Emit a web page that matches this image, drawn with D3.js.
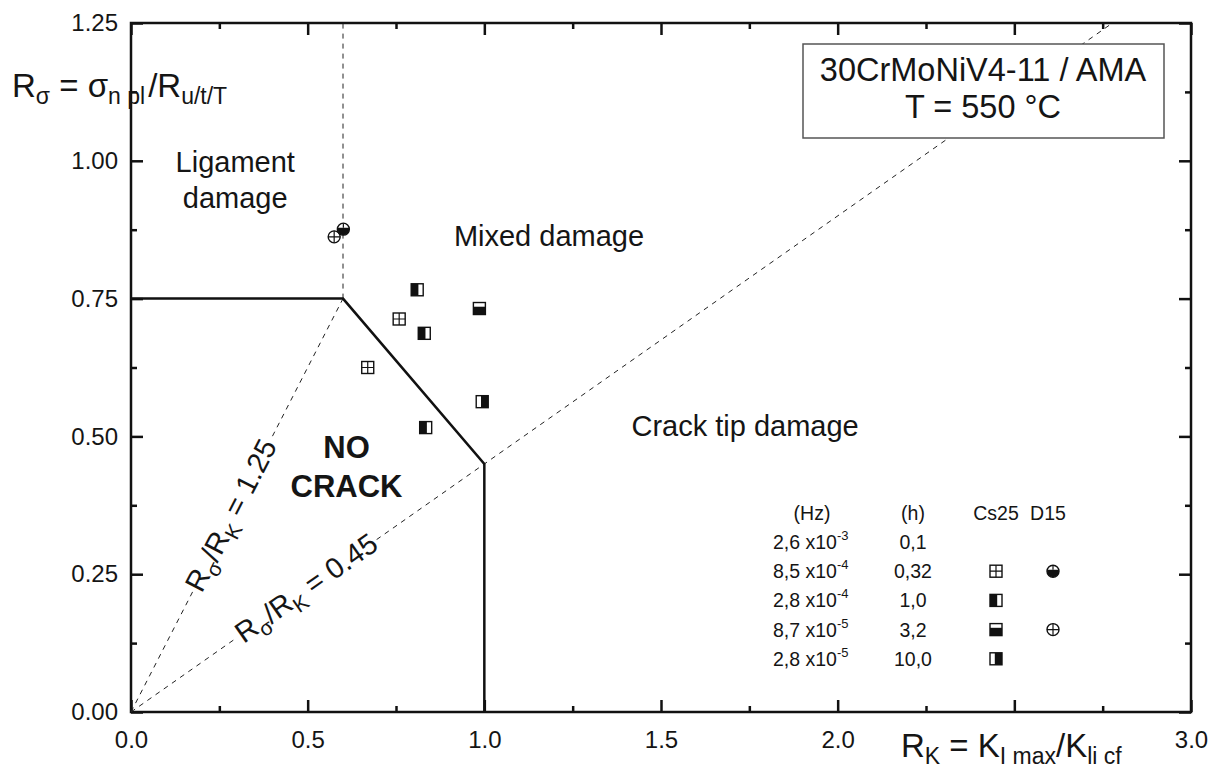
<!DOCTYPE html>
<html>
<head>
<meta charset="utf-8">
<script src="https://cdn.jsdelivr.net/npm/d3@7"></script>
<style>
  body { margin: 0; background: #fff; }
  svg text { font-family: "Liberation Sans", Arial, sans-serif; fill: #151515; }
</style>
</head>
<body>
<svg id="chart" width="1224" height="774"></svg>
<script>
// axis ticks
const xTicks = [0, 0.5, 1.0, 1.5, 2.0, 2.5, 3.0];
const xHidden = [2.5]; // label sits under the axis title in the original
const xMinor = [0.25, 0.75, 1.25, 1.75, 2.25, 2.75];
const yTicks = [0, 0.25, 0.5, 0.75, 1.0, 1.25];
const yMinor = [0.125, 0.375, 0.625, 0.875, 1.125];

// damage map boundary (solid) and the dashed guide lines
const boundary = [[0, 0.75], [0.6, 0.75], [1.0, 0.45], [1.0, 0]];
const ligamentLine = [[0.6, 0.75], [0.6, 1.25]];
const ratioLines = [
  { ratio: 1.25, xEnd: 0.6, label: "1.25", at: 0.285 },
  { ratio: 0.45, xEnd: 3.0, label: "0.45", at: 0.497 }
];

// Cs25 specimens (squares), fill type by frequency
const cs25 = [
  { fill: "grid", x: 0.670, y: 0.625 },
  { fill: "grid", x: 0.759, y: 0.713 },
  { fill: "left", x: 0.810, y: 0.766 },
  { fill: "left", x: 0.830, y: 0.687 },
  { fill: "left", x: 0.834, y: 0.516 },
  { fill: "bottom", x: 0.986, y: 0.732 },
  { fill: "right", x: 0.994, y: 0.563 }
];
// D15 specimens (circles)
const d15 = [
  { fill: "cross", x: 0.575, y: 0.862 },
  { fill: "half", x: 0.601, y: 0.876 }
];

const regionLabels = [
  { lines: ["Ligament", "damage"], x: 0.295, y: 0.98 },
  { lines: ["Mixed damage"], x: 1.183, y: 0.845 },
  { lines: ["Crack tip damage"], x: 1.738, y: 0.5 }
];

// legend table
const legendHz = ["2,6", "8,5", "2,8", "8,7", "2,8"];
const legendExp = ["-3", "-4", "-4", "-5", "-5"];
const legendH = ["0,1", "0,32", "1,0", "3,2", "10,0"];
const legendCs = [null, "grid", "left", "bottom", "right"];
const legendD = [null, "half", null, "cross", null];

const W = 1224, H = 774;
const margin = { left: 131, top: 23, right: 33, bottom: 62 };
const iw = W - margin.left - margin.right;
const ih = H - margin.top - margin.bottom;

const svg = d3.select("#chart");
const g = svg.append("g").attr("transform", `translate(${margin.left},${margin.top})`);

const x = d3.scaleLinear().domain([0, 3]).range([0, iw]);
const y = d3.scaleLinear().domain([0, 1.25]).range([ih, 0]);

// axes (ticks inward on all four sides)
function styleAxis(sel) {
  sel.select(".domain").remove();
  sel.selectAll("line").attr("stroke", "#111").attr("stroke-width", 2.5);
  sel.selectAll("text").attr("font-size", "24px").attr("fill", "#151515")
    .style("font-family", '"Liberation Sans", Arial, sans-serif');
}
const fx = d3.format(".1f");
g.append("g").attr("transform", `translate(0,${ih})`)
  .call(d3.axisBottom(x).tickValues(xTicks).tickFormat(d => xHidden.includes(d) ? "" : fx(d))
    .tickSize(-12).tickPadding(19))
  .call(styleAxis);
g.append("g").attr("transform", `translate(0,${ih})`)
  .call(d3.axisBottom(x).tickValues(xMinor).tickFormat("").tickSize(-6)).call(styleAxis);
g.append("g")
  .call(d3.axisTop(x).tickValues(xTicks).tickFormat("").tickSize(-12)).call(styleAxis);
g.append("g")
  .call(d3.axisTop(x).tickValues(xMinor).tickFormat("").tickSize(-6)).call(styleAxis);
g.append("g")
  .call(d3.axisLeft(y).tickValues(yTicks).tickFormat(d3.format(".2f")).tickSize(-12).tickPadding(13))
  .call(styleAxis);
g.append("g")
  .call(d3.axisLeft(y).tickValues(yMinor).tickFormat("").tickSize(-6)).call(styleAxis);
g.append("g").attr("transform", `translate(${iw},0)`)
  .call(d3.axisRight(y).tickValues(yTicks).tickFormat("").tickSize(-12)).call(styleAxis);
g.append("g").attr("transform", `translate(${iw},0)`)
  .call(d3.axisRight(y).tickValues(yMinor).tickFormat("").tickSize(-6)).call(styleAxis);

g.append("rect").attr("width", iw).attr("height", ih)
  .attr("fill", "none").attr("stroke", "#111").attr("stroke-width", 2.5);

// dashed guide lines
const line = d3.line().x(d => x(d[0])).y(d => y(d[1]));
g.append("defs").append("clipPath").attr("id", "plotClip")
  .append("rect").attr("width", iw).attr("height", ih);

g.append("path").datum(ligamentLine).attr("d", line)
  .attr("fill", "none").attr("stroke", "#222").attr("stroke-width", 1).attr("stroke-dasharray", "5,5");

ratioLines.forEach(r => {
  g.append("path").datum([[0, 0], [r.xEnd, r.xEnd * r.ratio]]).attr("d", line)
    .attr("clip-path", "url(#plotClip)")
    .attr("fill", "none").attr("stroke", "#222").attr("stroke-width", 1).attr("stroke-dasharray", "5,5");
});

// solid boundary
g.append("path").datum(boundary).attr("d", line)
  .attr("fill", "none").attr("stroke", "#111").attr("stroke-width", 2.5);

// rotated ratio labels
ratioLines.forEach(r => {
  const px = x(r.at), py = y(r.at * r.ratio);
  const ang = Math.atan2(y(0) - y(r.ratio), x(1) - x(0)) * 180 / Math.PI;
  const lg = g.append("g").attr("transform", `translate(${px},${py}) rotate(${-ang})`);
  const bg = lg.append("rect").attr("fill", "#fff");
  const t = lg.append("text").attr("text-anchor", "middle").attr("y", 9).attr("font-size", "29px");
  t.append("tspan").text("R");
  t.append("tspan").attr("font-size", "21px").attr("dy", 7).text("σ");
  t.append("tspan").attr("dy", -7).text("/R");
  t.append("tspan").attr("font-size", "21px").attr("dy", 7).text("K");
  t.append("tspan").attr("dy", -7).text(" = " + r.label);
  const bb = t.node().getBBox();
  bg.attr("x", bb.x - 2).attr("y", bb.y + 2).attr("width", bb.width + 4).attr("height", bb.height - 2);
});

// region labels
regionLabels.forEach(r => {
  const t = g.append("text").attr("text-anchor", "middle")
    .attr("x", x(r.x)).attr("y", y(r.y)).attr("font-size", "29px");
  r.lines.forEach((s, i) => t.append("tspan").attr("x", x(r.x)).attr("dy", i ? 36 : 0).text(s));
});
const nc = g.append("text").attr("text-anchor", "middle").attr("font-weight", "bold")
  .attr("font-size", "31px").attr("x", x(0.61)).attr("y", y(0.46));
nc.append("tspan").attr("x", x(0.61)).text("NO");
nc.append("tspan").attr("x", x(0.61)).attr("dy", 39).text("CRACK");

// markers
const S = 12;
function square(sel, fill) {
  const h = S / 2;
  sel.append("rect").attr("x", -h).attr("y", -h).attr("width", S).attr("height", S)
    .attr("fill", "#fff").attr("stroke", "#111").attr("stroke-width", 1.4);
  if (fill === "grid") {
    sel.append("path").attr("d", `M0,${-h}V${h}M${-h},0H${h}`).attr("stroke", "#111").attr("stroke-width", 1.2);
  } else if (fill === "left") {
    sel.append("rect").attr("x", -h).attr("y", -h).attr("width", S * 0.6).attr("height", S).attr("fill", "#111");
  } else if (fill === "right") {
    sel.append("rect").attr("x", -h + S * 0.4).attr("y", -h).attr("width", S * 0.6).attr("height", S).attr("fill", "#111");
  } else if (fill === "bottom") {
    sel.append("rect").attr("x", -h).attr("y", -h + S * 0.35).attr("width", S).attr("height", S * 0.65).attr("fill", "#111");
  }
}
function circle(sel, fill) {
  const r = 6;
  sel.append("circle").attr("r", r).attr("fill", "#fff").attr("stroke", "#111").attr("stroke-width", 1.4);
  if (fill === "cross") {
    sel.append("path").attr("d", `M0,${-r}V${r}M${-r},0H${r}`).attr("stroke", "#111").attr("stroke-width", 1.2);
  } else if (fill === "half") {
    const c = -1.5, w = Math.sqrt(r * r - c * c);
    sel.append("path").attr("d", `M${-w},${c}A${r},${r} 0 1 0 ${w},${c}Z`).attr("fill", "#111");
    sel.append("path").attr("d", `M0,${-r}V${c}`).attr("stroke", "#111").attr("stroke-width", 1.2);
  }
}

cs25.forEach(d => {
  g.append("g").attr("transform", `translate(${x(d.x)},${y(d.y)})`).call(square, d.fill);
});
d15.forEach(d => {
  g.append("g").attr("transform", `translate(${x(d.x)},${y(d.y)})`).call(circle, d.fill);
});

// title box
svg.append("rect").attr("x", 803).attr("y", 44).attr("width", 361).attr("height", 94)
  .attr("fill", "#fff").attr("stroke", "#555").attr("stroke-width", 1.5);
svg.append("text").attr("text-anchor", "middle").attr("x", 983).attr("y", 81)
  .attr("font-size", "32.5px").text("30CrMoNiV4-11 / AMA");
svg.append("text").attr("text-anchor", "middle").attr("x", 983).attr("y", 118)
  .attr("font-size", "32.5px").text("T = 550 °C");

// legend table
const lf = "19.5px";
const colHz = 812, colH = 913, colCs = 996, colD = 1053;
[["(Hz)", colHz], ["(h)", colH], ["Cs25", colCs], ["D15", colD - 5]].forEach(([s, cx]) => {
  svg.append("text").attr("text-anchor", "middle").attr("x", cx).attr("y", 520).attr("font-size", lf).text(s);
});
legendHz.forEach((hz, i) => {
  const cy = 542 + i * 29.2;
  const t = svg.append("text").attr("x", 773).attr("y", cy + 7).attr("font-size", lf);
  t.append("tspan").text(hz + " x10");
  t.append("tspan").attr("font-size", "13px").attr("dy", -9).text(legendExp[i]);
  svg.append("text").attr("text-anchor", "middle").attr("x", colH).attr("y", cy + 7)
    .attr("font-size", lf).text(legendH[i]);
  if (legendCs[i]) svg.append("g").attr("transform", `translate(${colCs},${cy})`).call(square, legendCs[i]);
  if (legendD[i]) svg.append("g").attr("transform", `translate(${colD},${cy})`).call(circle, legendD[i]);
});

// axis titles
const yl = svg.append("text").attr("x", 12).attr("y", 97).attr("font-size", "33px");
yl.append("tspan").text("R");
yl.append("tspan").attr("font-size", "23px").attr("dy", 7).text("σ");
yl.append("tspan").attr("dy", -7).text(" = σ");
yl.append("tspan").attr("font-size", "23px").attr("dy", 7).text("n pl");
yl.append("tspan").attr("dy", -7).attr("dx", 3).text("/R");
yl.append("tspan").attr("font-size", "23px").attr("dy", 7).text("u/t/T");

const xl = svg.append("text").attr("x", 901).attr("y", 757).attr("font-size", "33px");
xl.append("tspan").text("R");
xl.append("tspan").attr("font-size", "23px").attr("dy", 7).text("K");
xl.append("tspan").attr("dy", -7).text(" = K");
xl.append("tspan").attr("font-size", "23px").attr("dy", 7).text("I max");
xl.append("tspan").attr("dy", -7).text("/K");
xl.append("tspan").attr("font-size", "23px").attr("dy", 7).text("li cf");
</script>
</body>
</html>
